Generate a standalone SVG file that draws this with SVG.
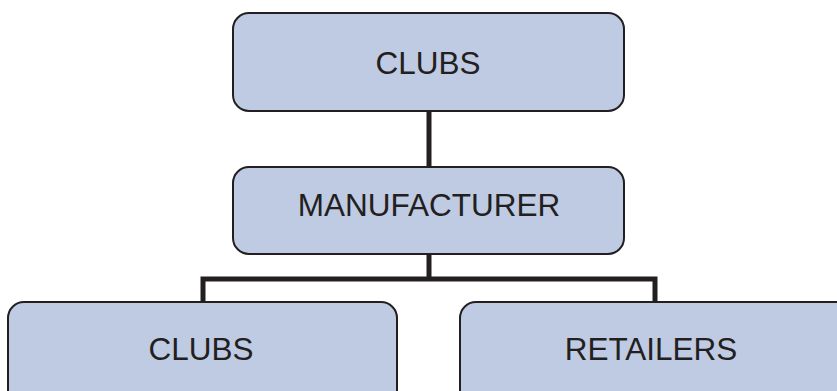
<svg xmlns="http://www.w3.org/2000/svg" width="837" height="391" viewBox="0 0 837 391">
  <style>
    .box { fill: #bfcbe3; stroke: #231f20; stroke-width: 2; }
    .label { font-family: "Liberation Sans", Arial, sans-serif; font-size: 31.5px; fill: #231f20; text-anchor: middle; }
    .wire { fill: none; stroke: #231f20; stroke-width: 5; stroke-linejoin: miter; }
  </style>
  <rect width="837" height="391" fill="#ffffff"/>
  <g id="connectors">
    <line class="wire" x1="429" y1="111" x2="429" y2="168"/>
    <path class="wire" d="M203,303 V279 H655 V303"/>
    <line class="wire" x1="429" y1="254" x2="429" y2="279"/>
  </g>
  <g id="clubs-top">
    <rect class="box" x="233" y="13" width="391" height="98" rx="16"/>
    <text class="label" x="428" y="74">CLUBS</text>
  </g>
  <g id="manufacturer">
    <rect class="box" x="233" y="167" width="391" height="87" rx="16"/>
    <text class="label" x="429" y="216">MANUFACTURER</text>
  </g>
  <g id="clubs-bottom">
    <rect class="box" x="8" y="302" width="389" height="110" rx="16"/>
    <text class="label" x="201" y="360">CLUBS</text>
  </g>
  <g id="retailers">
    <rect class="box" x="460" y="302" width="400" height="110" rx="16"/>
    <text class="label" x="651" y="360">RETAILERS</text>
  </g>
</svg>
